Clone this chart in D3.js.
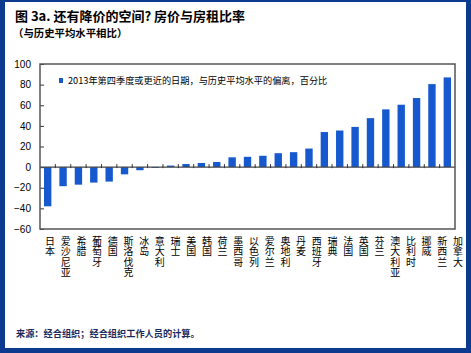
<!DOCTYPE html>
<html>
<head>
<meta charset="utf-8">
<script src="https://cdn.jsdelivr.net/npm/d3@7"></script>
<style>
  html, body { margin: 0; padding: 0; background: #fff; }
  svg { display: block; }
</style>
</head>
<body>
<div id="chart"></div>
<script>
// data
const countries = ["日本", "爱沙尼亚", "希腊", "葡萄牙", "德国", "斯洛伐克", "冰岛", "意大利", "瑞士",
    "美国", "韩国", "荷兰", "墨西哥", "以色列", "爱尔兰", "奥地利", "丹麦", "西班牙", "瑞典",
    "法国", "英国", "芬兰", "澳大利亚", "比利时", "挪威", "新西兰", "加拿大"];
const deviation = [-38, -18.5, -17, -15, -14, -7, -3, -0.8, 1.5,
    3, 4, 5, 9.5, 10, 11, 13.5, 14.5, 18, 34,
    35.5, 39, 47.5, 56, 60.5, 67, 80.5, 87];
const yTicks = [-60, -40, -20, 0, 20, 40, 60, 80, 100];
const seriesName = "2013年第四季度或更近的日期，与历史平均水平的偏离，百分比";
const title = "图 3a. 还有降价的空间? 房价与房租比率";
const subtitle = "（与历史平均水平相比）";
const source = "来源：经合组织；经合组织工作人员的计算。";

const W = 471, H = 353;
const cjk = "'Noto Sans CJK SC', sans-serif";
const latin = "'Liberation Sans', Arial, sans-serif";
const barColor = "#1659cf";
const frameBlue = "#0c3a8e";

const svg = d3.select("#chart").append("svg")
    .attr("width", W)
    .attr("height", H);

// blue frame round the whole picture
svg.append("rect").attr("width", W).attr("height", H).attr("fill", frameBlue);
svg.append("rect")
    .attr("x", 5).attr("y", 2)
    .attr("width", 466 - 5).attr("height", 348 - 2)
    .attr("fill", "#fff");

// titles
svg.append("text")
    .attr("x", 15).attr("y", 21)
    .style("font-family", cjk)
    .style("font-size", "13px")
    .style("font-weight", "bold")
    .text(title);

svg.append("text")
    .attr("x", 13).attr("y", 36.5)
    .style("font-family", cjk)
    .style("font-size", "10.4px")
    .style("font-weight", "bold")
    .text(subtitle);

// plot area
const plot = { left: 40, right: 455, top: 64, bottom: 229 };

const x = d3.scaleBand()
    .domain(countries)
    .range([plot.left, plot.right])
    .paddingInner(0.52)
    .paddingOuter(0.26);

const labelX = d3.scalePoint()
    .domain(countries)
    .range([50, 458]);

const y = d3.scaleLinear()
    .domain([-60, 100])
    .range([plot.bottom, plot.top]);

// y axis, ticks pointing inward
const yAxis = svg.append("g")
    .attr("transform", `translate(${plot.left},0)`)
    .call(d3.axisLeft(y).tickValues(yTicks).tickSize(-4).tickPadding(9));
yAxis.select(".domain").remove();
yAxis.selectAll(".tick line").attr("stroke", "#333");
yAxis.selectAll("text")
    .style("font-family", latin)
    .style("font-size", "10px")
    .attr("fill", "#000");

// bars
svg.append("g")
    .selectAll("rect")
    .data(countries)
    .enter()
    .append("rect")
    .attr("x", d => x(d))
    .attr("width", x.bandwidth())
    .attr("y", (d, i) => y(Math.max(0, deviation[i])))
    .attr("height", (d, i) => Math.abs(y(deviation[i]) - y(0)))
    .attr("fill", barColor);

// zero line with small ticks at category boundaries
svg.append("line")
    .attr("x1", plot.left).attr("x2", plot.right)
    .attr("y1", y(0)).attr("y2", y(0))
    .attr("stroke", "#444")
    .attr("stroke-width", 1.3);

const gap = (x.step() - x.bandwidth()) / 2;
svg.append("g")
    .selectAll("line")
    .data(countries.slice(1))
    .enter()
    .append("line")
    .attr("x1", d => x(d) - gap)
    .attr("x2", d => x(d) - gap)
    .attr("y1", y(0) - 3)
    .attr("y2", y(0) + 1)
    .attr("stroke", "#333");

// plot frame
svg.append("rect")
    .attr("x", plot.left).attr("y", plot.top)
    .attr("width", plot.right - plot.left)
    .attr("height", plot.bottom - plot.top)
    .attr("fill", "none")
    .attr("stroke", "#555")
    .attr("stroke-width", 1.5);

// legend
svg.append("rect")
    .attr("x", 59).attr("y", 78)
    .attr("width", 4).attr("height", 5)
    .attr("fill", barColor);
svg.append("text")
    .attr("x", 68).attr("y", 83.5)
    .style("font-family", cjk)
    .style("font-size", "9.2px")
    .text(seriesName);

// vertical category labels, one character per line
const labels = svg.append("g")
    .selectAll("text")
    .data(countries)
    .enter()
    .append("text")
    .attr("x", d => labelX(d))
    .attr("y", 245)
    .attr("text-anchor", "middle")
    .style("font-family", cjk)
    .style("font-size", "10px")
    .attr("fill", "#000");

labels.selectAll("tspan")
    .data(d => d.split("").map(c => ({ c: c, cx: labelX(d) })))
    .enter()
    .append("tspan")
    .attr("x", t => t.cx)
    .attr("dy", (t, i) => i === 0 ? 0 : 10.3)
    .text(t => t.c);

// source note
svg.append("text")
    .attr("x", 16).attr("y", 337)
    .style("font-family", cjk)
    .style("font-size", "9.2px")
    .style("font-weight", "bold")
    .attr("fill", "#1b2a5c")
    .text(source);
</script>
</body>
</html>
